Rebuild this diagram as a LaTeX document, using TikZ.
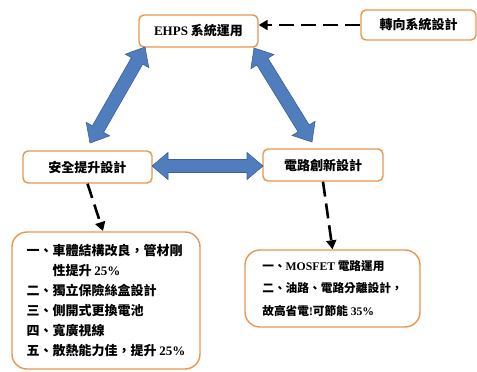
\documentclass[tikz,border=0pt]{standalone}
\usepackage{fontspec}
\setmainfont{Noto Sans CJK TC}
\newfontfamily\lat{Liberation Serif}
\usetikzlibrary{calc,arrows.meta}
\definecolor{boxorange}{HTML}{E8964F}
\definecolor{arrowblue}{HTML}{4F7DBE}
\definecolor{arrowedge}{HTML}{3C6294}
\newcommand\dblarrow[2]{%
\draw[barrow] let \p1=($(#2)-(#1)$), \n1={atan2(\y1,\x1)} in
 (#1) -- ($(#1)+(\n1:16pt)+({\n1+90}:13.5pt)$) -- ($(#1)+(\n1:16pt)+({\n1+90}:6.5pt)$)
 -- ($(#2)+(\n1:-16pt)+({\n1+90}:6.5pt)$) -- ($(#2)+(\n1:-16pt)+({\n1+90}:13.5pt)$)
 -- (#2) -- ($(#2)+(\n1:-16pt)+({\n1-90}:13.5pt)$) -- ($(#2)+(\n1:-16pt)+({\n1-90}:6.5pt)$)
 -- ($(#1)+(\n1:16pt)+({\n1-90}:6.5pt)$) -- ($(#1)+(\n1:16pt)+({\n1-90}:13.5pt)$) -- cycle;}
\begin{document}
\begin{tikzpicture}[x=1pt,y=-1pt,
  smallbox/.style={draw=boxorange, line width=1.4pt, rounded corners=5pt, fill=white,
    font=\fontsize{13}{15}\selectfont\bfseries, inner sep=0pt},
  bigbox/.style={draw=boxorange, line width=1.4pt, rounded corners=15pt, fill=white,
    align=left, inner sep=0pt},
  barrow/.style={fill=arrowblue, draw=arrowedge, line width=0.6pt, line join=miter},
  dasharrow/.style={line width=2.6pt, dash pattern=on 15pt off 7pt,
    -{Triangle[length=9pt,width=10pt]}}]
\useasboundingbox (0,0) rectangle (477,372);
\node[smallbox, minimum width=119pt, minimum height=32pt] (ehps) at (198.5,31) {{\lat EHPS} 系統運用};
\node[smallbox, minimum width=115pt, minimum height=30pt] (steer) at (418.5,25) {轉向系統設計};
\node[smallbox, minimum width=129pt, minimum height=32pt] (safety) at (87.5,167) {安全提升設計};
\node[smallbox, minimum width=120pt, minimum height=32pt] (circuit) at (323,165) {電路創新設計};
\node[bigbox, minimum width=188pt, minimum height=137pt,
  font=\fontsize{13}{20}\selectfont\bfseries] (leftbox) at (106,300.5)
  {一、車體結構改良，管材剛\\
   \hspace*{2em}性提升 {\lat 25\%}\\
   二、獨立保險絲盒設計\\
   三、側開式更換電池\\
   四、寬廣視線\\
   五、散熱能力佳，提升 {\lat 25\%}};
\node[bigbox, minimum width=175pt, minimum height=77pt,
  font=\fontsize{11.7}{22.5}\selectfont\bfseries] (rightbox) at (332.5,288.5)
  {一、{\lat MOSFET} 電路運用\\
   二、油路、電路分離設計，\\
   故高省電{\lat !}可節能 {\lat 35\%}};
\coordinate (l1) at (145,47);
\coordinate (l2) at (90,143);
\coordinate (r1) at (254,48);
\coordinate (r2) at (312,142);
\coordinate (h1) at (152,166);
\coordinate (h2) at (263,166);
\dblarrow{l1}{l2}
\dblarrow{r1}{r2}
\dblarrow{h1}{h2}
\coordinate (steerend) at (steer.west -| ehps.east);
\draw[dasharrow] (steer.west) -- (steerend);
\coordinate (lt) at (103,231);
\draw[dasharrow] (safety.south) -- (lt);
\draw[dasharrow] (circuit.south) -- (rightbox.north);
\end{tikzpicture}
\end{document}
